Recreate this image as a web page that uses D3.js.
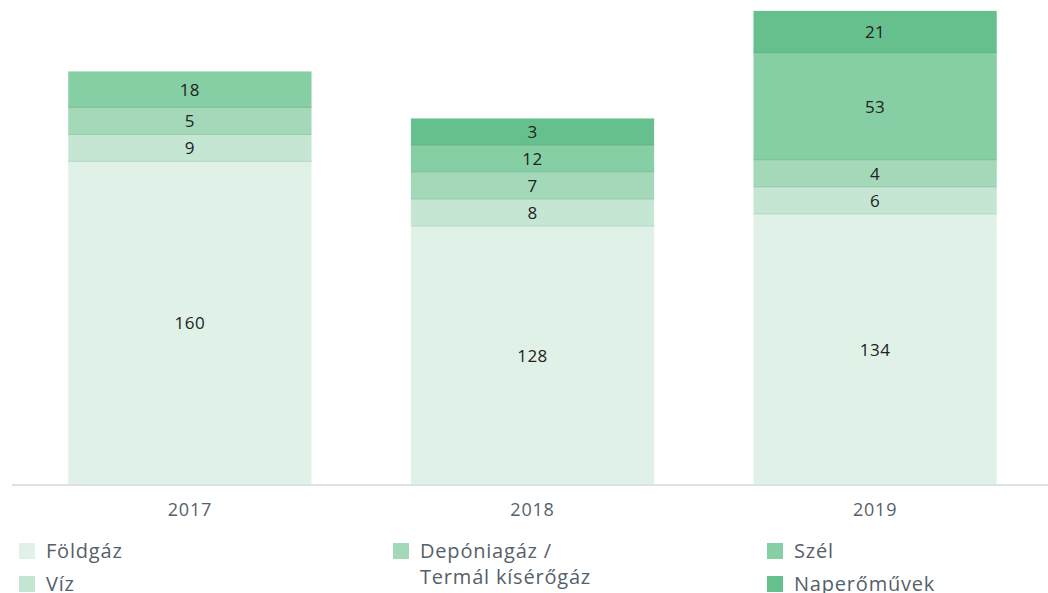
<!DOCTYPE html>
<html>
<head>
<meta charset="utf-8">
<script src="https://cdn.jsdelivr.net/npm/d3@7"></script>
<style>
  body { margin: 0; background: #fff; }
  svg { display: block; font-family: "Open Sans", Lato, sans-serif; }
</style>
</head>
<body>
<svg id="chart"></svg>
<script>
// data
const years = ['2017', '2018', '2019'];
const seriesNames = ['Földgáz', 'Víz', 'Depóniagáz / Termál kísérőgáz', 'Szél', 'Naperőművek'];
const foldgaz = [160, 128, 134];
const viz = [9, 8, 6];
const deponia = [5, 7, 4];
const szel = [18, 12, 53];
const nap = [0, 3, 21];
const colors = ['#e0f2e8', '#c4e6d3', '#a3d9b9', '#86cea4', '#66c08d'];

const width = 1048, height = 593;
const baseline = 485;
const minSeg = 27; // small segments keep room for their label

const svg = d3.select('#chart').attr('width', width).attr('height', height);

const x = d3.scaleBand()
  .domain(years)
  .range([22, 1043])
  .paddingInner(0.29)
  .paddingOuter(0.135);

// value -> pixel height
const y = d3.scaleLinear().domain([0, 1]).range([0, 2.02]);

const series = [foldgaz, viz, deponia, szel, nap];

years.forEach((yr, i) => {
  let top = baseline;
  series.forEach((vals, s) => {
    const v = vals[i];
    if (!v) return;
    const h = Math.max(minSeg, y(v));
    const y0 = top - h;
    const g = svg.append('g');
    g.append('rect')
      .attr('x', x(yr))
      .attr('y', y0)
      .attr('width', x.bandwidth())
      .attr('height', h)
      .attr('fill', colors[s]);
    if (s > 0) {
      g.append('line')
        .attr('x1', x(yr)).attr('x2', x(yr) + x.bandwidth())
        .attr('y1', top - 0.5).attr('y2', top - 0.5)
        .attr('stroke', d3.color(colors[s]).darker(0.2))
        .attr('stroke-width', 1);
    }
    g.append('text')
      .attr('x', x(yr) + x.bandwidth() / 2)
      .attr('y', y0 + h / 2)
      .attr('dy', '0.35em')
      .attr('text-anchor', 'middle')
      .attr('font-size', 17)
      .attr('letter-spacing', 0.5)
      .attr('fill', '#222')
      .text(v);
    top = y0;
  });
});

// axis
const axis = svg.append('g')
  .attr('transform', `translate(0,${baseline})`)
  .call(d3.axisBottom(x).tickSize(0).tickPadding(18));
axis.select('.domain').attr('d', 'M12,0H1048').attr('stroke', '#dde1e6').attr('stroke-width', 2);
axis.selectAll('.tick text').attr('font-size', 18).attr('letter-spacing', 0.8)
  .attr('fill', '#555f6a')
  .attr('font-family', '"Open Sans", sans-serif');

// legend
const legendItems = [
  { name: ['Földgáz'], c: 0, x: 19, y: 543 },
  { name: ['Víz'], c: 1, x: 19, y: 576 },
  { name: ['Depóniagáz /', 'Termál kísérőgáz'], c: 2, x: 393, y: 543 },
  { name: ['Szél'], c: 3, x: 767, y: 543 },
  { name: ['Naperőművek'], c: 4, x: 767, y: 576 }
];
const lg = svg.append('g').selectAll('g').data(legendItems).join('g')
  .attr('transform', d => `translate(${d.x},${d.y})`);
lg.append('rect').attr('width', 16).attr('height', 16).attr('fill', d => colors[d.c]);
lg.each(function (d) {
  const t = d3.select(this).append('text')
    .attr('x', 27)
    .attr('y', 15)
    .attr('font-size', 20)
    .attr('letter-spacing', 0.8)
    .attr('fill', '#555f6a');
  d.name.forEach((ln, k) => {
    t.append('tspan').attr('x', 27).attr('dy', k ? 26 : 0).text(ln);
  });
});
</script>
</body>
</html>
